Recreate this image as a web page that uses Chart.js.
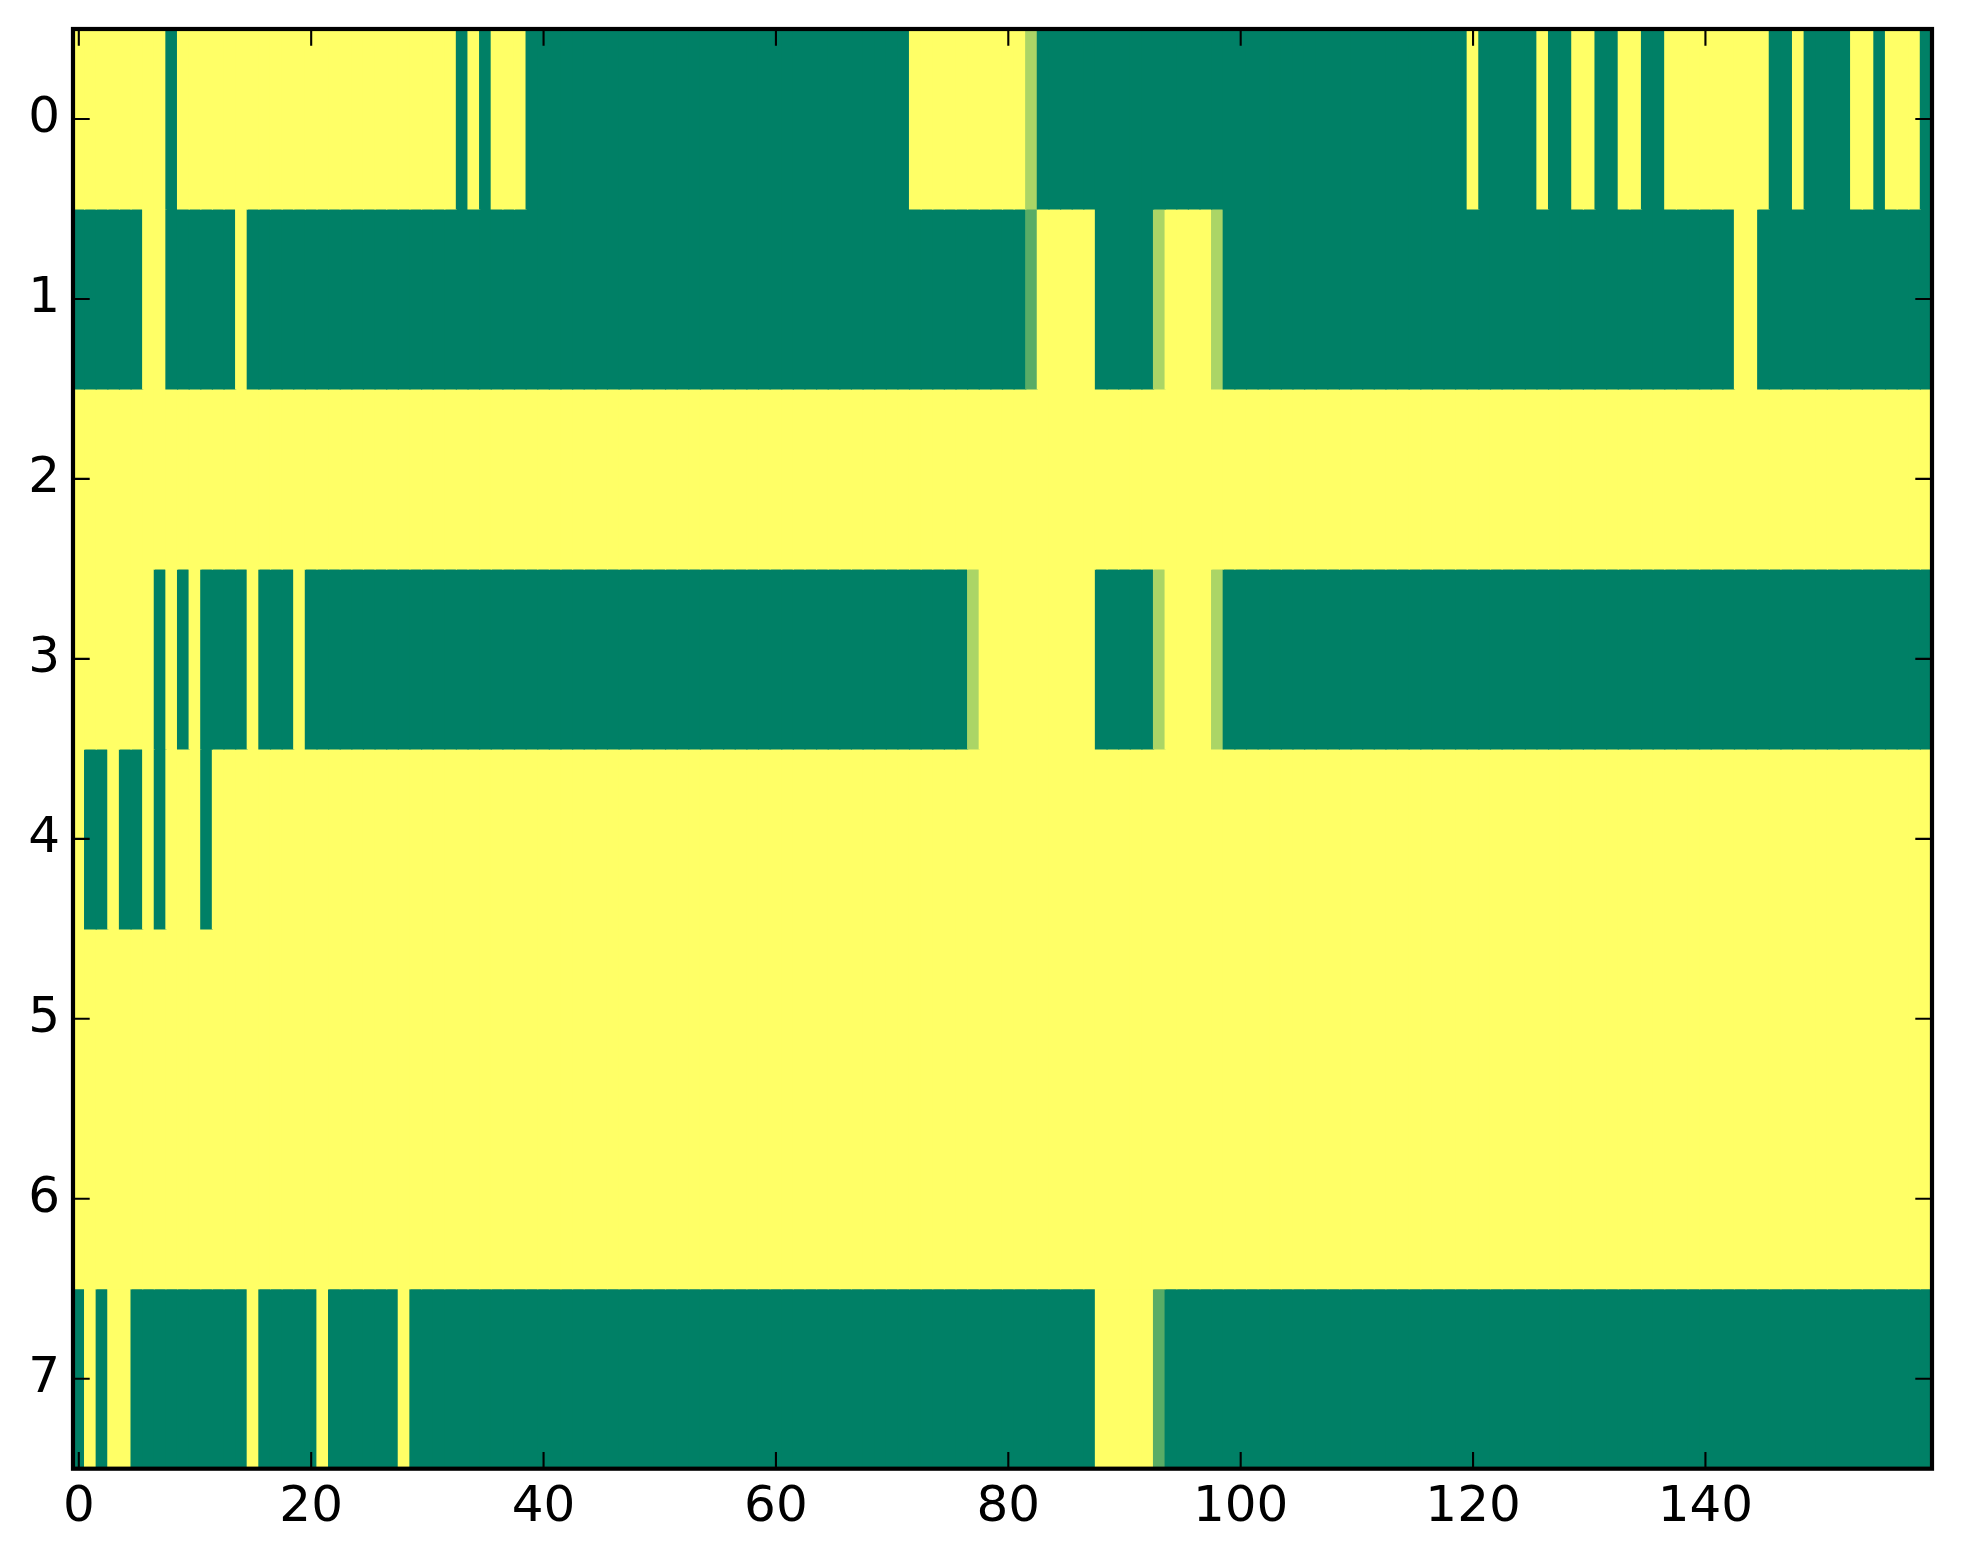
<!DOCTYPE html>
<html>
<head>
<meta charset="utf-8">
<script src="https://cdn.jsdelivr.net/npm/chart.js@4.4.1/dist/chart.umd.min.js"></script>
<style>
  html, body { margin: 0; padding: 0; background: #ffffff; }
  #wrap { width: 1963px; height: 1564px; }
</style>
</head>
<body>
<div id="wrap"><canvas id="c" width="1963" height="1564"></canvas></div>
<script>
// ---- data ----
const rowLabels = [0, 1, 2, 3, 4, 5, 6, 7];
const xTicks = [0, 20, 40, 60, 80, 100, 120, 140];

const row0 = [
  1,1,1,1,1,1,1,1,0,1,1,1,1,1,1,1,1,1,1,1,
  1,1,1,1,1,1,1,1,1,1,1,1,1,0,1,0,1,1,1,0,
  0,0,0,0,0,0,0,0,0,0,0,0,0,0,0,0,0,0,0,0,
  0,0,0,0,0,0,0,0,0,0,0,0,1,1,1,1,1,1,1,1,
  1,1,0.67,0,0,0,0,0,0,0,0,0,0,0,0,0,0,0,0,0,
  0,0,0,0,0,0,0,0,0,0,0,0,0,0,0,0,0,0,0,0,
  1,0,0,0,0,0,1,0,0,1,1,0,0,1,1,0,0,1,1,1,
  1,1,1,1,1,1,0,0,1,0,0,0,0,1,1,0,1,1,1,0
];
const row1 = [
  0,0,0,0,0,0,1,1,0,0,0,0,0,0,1,0,0,0,0,0,
  0,0,0,0,0,0,0,0,0,0,0,0,0,0,0,0,0,0,0,0,
  0,0,0,0,0,0,0,0,0,0,0,0,0,0,0,0,0,0,0,0,
  0,0,0,0,0,0,0,0,0,0,0,0,0,0,0,0,0,0,0,0,
  0,0,0.35,1,1,1,1,1,0,0,0,0,0,0.67,1,1,1,1,0.67,0,
  0,0,0,0,0,0,0,0,0,0,0,0,0,0,0,0,0,0,0,0,
  0,0,0,0,0,0,0,0,0,0,0,0,0,0,0,0,0,0,0,0,
  0,0,0,1,1,0,0,0,0,0,0,0,0,0,0,0,0,0,0,0
];
const row2 = [
  1,1,1,1,1,1,1,1,1,1,1,1,1,1,1,1,1,1,1,1,
  1,1,1,1,1,1,1,1,1,1,1,1,1,1,1,1,1,1,1,1,
  1,1,1,1,1,1,1,1,1,1,1,1,1,1,1,1,1,1,1,1,
  1,1,1,1,1,1,1,1,1,1,1,1,1,1,1,1,1,1,1,1,
  1,1,1,1,1,1,1,1,1,1,1,1,1,1,1,1,1,1,1,1,
  1,1,1,1,1,1,1,1,1,1,1,1,1,1,1,1,1,1,1,1,
  1,1,1,1,1,1,1,1,1,1,1,1,1,1,1,1,1,1,1,1,
  1,1,1,1,1,1,1,1,1,1,1,1,1,1,1,1,1,1,1,1
];
const row3 = [
  1,1,1,1,1,1,1,0,1,0,1,0,0,0,0,1,0,0,0,1,
  0,0,0,0,0,0,0,0,0,0,0,0,0,0,0,0,0,0,0,0,
  0,0,0,0,0,0,0,0,0,0,0,0,0,0,0,0,0,0,0,0,
  0,0,0,0,0,0,0,0,0,0,0,0,0,0,0,0,0,0.67,1,1,
  1,1,1,1,1,1,1,1,0,0,0,0,0,0.67,1,1,1,1,0.67,0,
  0,0,0,0,0,0,0,0,0,0,0,0,0,0,0,0,0,0,0,0,
  0,0,0,0,0,0,0,0,0,0,0,0,0,0,0,0,0,0,0,0,
  0,0,0,0,0,0,0,0,0,0,0,0,0,0,0,0,0,0,0,0
];
const row4 = [
  1,0,0,1,0,0,1,0,1,1,1,0,1,1,1,1,1,1,1,1,
  1,1,1,1,1,1,1,1,1,1,1,1,1,1,1,1,1,1,1,1,
  1,1,1,1,1,1,1,1,1,1,1,1,1,1,1,1,1,1,1,1,
  1,1,1,1,1,1,1,1,1,1,1,1,1,1,1,1,1,1,1,1,
  1,1,1,1,1,1,1,1,1,1,1,1,1,1,1,1,1,1,1,1,
  1,1,1,1,1,1,1,1,1,1,1,1,1,1,1,1,1,1,1,1,
  1,1,1,1,1,1,1,1,1,1,1,1,1,1,1,1,1,1,1,1,
  1,1,1,1,1,1,1,1,1,1,1,1,1,1,1,1,1,1,1,1
];
const row5 = [
  1,1,1,1,1,1,1,1,1,1,1,1,1,1,1,1,1,1,1,1,
  1,1,1,1,1,1,1,1,1,1,1,1,1,1,1,1,1,1,1,1,
  1,1,1,1,1,1,1,1,1,1,1,1,1,1,1,1,1,1,1,1,
  1,1,1,1,1,1,1,1,1,1,1,1,1,1,1,1,1,1,1,1,
  1,1,1,1,1,1,1,1,1,1,1,1,1,1,1,1,1,1,1,1,
  1,1,1,1,1,1,1,1,1,1,1,1,1,1,1,1,1,1,1,1,
  1,1,1,1,1,1,1,1,1,1,1,1,1,1,1,1,1,1,1,1,
  1,1,1,1,1,1,1,1,1,1,1,1,1,1,1,1,1,1,1,1
];
const row6 = [
  1,1,1,1,1,1,1,1,1,1,1,1,1,1,1,1,1,1,1,1,
  1,1,1,1,1,1,1,1,1,1,1,1,1,1,1,1,1,1,1,1,
  1,1,1,1,1,1,1,1,1,1,1,1,1,1,1,1,1,1,1,1,
  1,1,1,1,1,1,1,1,1,1,1,1,1,1,1,1,1,1,1,1,
  1,1,1,1,1,1,1,1,1,1,1,1,1,1,1,1,1,1,1,1,
  1,1,1,1,1,1,1,1,1,1,1,1,1,1,1,1,1,1,1,1,
  1,1,1,1,1,1,1,1,1,1,1,1,1,1,1,1,1,1,1,1,
  1,1,1,1,1,1,1,1,1,1,1,1,1,1,1,1,1,1,1,1
];
const row7 = [
  0,1,0,1,1,0,0,0,0,0,0,0,0,0,0,1,0,0,0,0,
  0,1,0,0,0,0,0,0,1,0,0,0,0,0,0,0,0,0,0,0,
  0,0,0,0,0,0,0,0,0,0,0,0,0,0,0,0,0,0,0,0,
  0,0,0,0,0,0,0,0,0,0,0,0,0,0,0,0,0,0,0,0,
  0,0,0,0,0,0,0,0,1,1,1,1,1,0.35,0,0,0,0,0,0,
  0,0,0,0,0,0,0,0,0,0,0,0,0,0,0,0,0,0,0,0,
  0,0,0,0,0,0,0,0,0,0,0,0,0,0,0,0,0,0,0,0,
  0,0,0,0,0,0,0,0,0,0,0,0,0,0,0,0,0,0,0,0
];
const rows = [row0, row1, row2, row3, row4, row5, row6, row7];

// ---- styling ----
// matplotlib "summer" colormap: v -> (v, 0.5 + 0.5 v, 0.4)
function summer(v) {
  const r = Math.round(v * 255);
  const g = Math.round((0.5 + 0.5 * v) * 255);
  return 'rgb(' + r + ',' + g + ',102)';
}
const FONT = { family: "'DejaVu Sans', sans-serif", size: 50 };
const TICK_LEN = 16.7;

const frameTicks = {
  id: 'frameTicks',
  afterDraw(chart) {
    const { ctx, chartArea: a, scales } = chart;
    const xs = scales.x, ys = scales.y;
    ctx.save();
    ctx.strokeStyle = '#000';
    ctx.lineWidth = 2.1;
    ctx.beginPath();
    xs.ticks.forEach(t => {
      const p = xs.getPixelForValue(t.value);
      ctx.moveTo(p, a.bottom); ctx.lineTo(p, a.bottom - TICK_LEN);
      ctx.moveTo(p, a.top); ctx.lineTo(p, a.top + TICK_LEN);
    });
    ys.ticks.forEach(t => {
      const p = ys.getPixelForValue(t.value);
      ctx.moveTo(a.left, p); ctx.lineTo(a.left + TICK_LEN, p);
      ctx.moveTo(a.right, p); ctx.lineTo(a.right - TICK_LEN, p);
    });
    ctx.stroke();
    ctx.lineWidth = 4.2;
    ctx.strokeRect(a.left, a.top, a.right - a.left, a.bottom - a.top);
    ctx.restore();
  }
};

const datasets = rows.map((vals, r) => ({
  label: 'row ' + rowLabels[r],
  data: vals.map((v, c) => ({ x: c, y: [rowLabels[r] - 0.5, rowLabels[r] + 0.5] })),
  backgroundColor: vals.map(summer),
  borderWidth: 0,
  borderSkipped: false,
  grouped: false,
  barPercentage: 1,
  categoryPercentage: 1,
  inflateAmount: 0.6
}));

new Chart(document.getElementById('c'), {
  type: 'bar',
  data: { datasets },
  options: {
    responsive: false,
    animation: false,
    devicePixelRatio: 1,
    layout: { padding: { top: 29, right: 31, left: 0, bottom: 0 } },
    plugins: { legend: { display: false }, tooltip: { enabled: false } },
    scales: {
      x: {
        type: 'linear',
        offset: false,
        min: -0.5,
        max: 159.5,
        afterBuildTicks: s => { s.ticks = xTicks.map(v => ({ value: v })); },
        afterFit: s => { s.height = 95.3; s.paddingLeft = 0; s.paddingRight = 0; },
        ticks: { font: FONT, color: '#000', padding: 9, maxRotation: 0, autoSkip: false,
                 callback: v => String(v) },
        grid: { display: false, drawTicks: false, offset: false },
        border: { display: false }
      },
      y: {
        type: 'linear',
        reverse: true,
        min: -0.5,
        max: 7.5,
        afterBuildTicks: s => { s.ticks = rowLabels.map(v => ({ value: v })); },
        afterFit: s => { s.width = 73; s.paddingTop = 0; s.paddingBottom = 0; },
        ticks: { font: FONT, color: '#000', padding: 13, autoSkip: false,
                 callback: v => String(v) },
        grid: { display: false, drawTicks: false },
        border: { display: false }
      }
    }
  },
  plugins: [frameTicks]
});
</script>
</body>
</html>
